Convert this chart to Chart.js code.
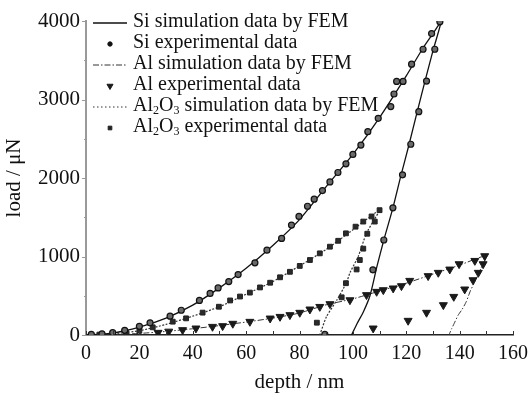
<!DOCTYPE html>
<html><head><meta charset="utf-8">
<script src="https://cdn.jsdelivr.net/npm/chart.js@4.4.0/dist/chart.umd.min.js"></script>
<style>html,body{margin:0;padding:0;background:#fff;}</style>
</head><body>
<canvas id="c" width="528" height="393" style="width:528px;height:393px;display:block"></canvas>
<script>
// ---- data ----
const xTickValues = [0, 20, 40, 60, 80, 100, 120, 140, 160];
const yTickValues = [0, 1000, 2000, 3000, 4000];
const seriesLabels = ['Si simulation data by FEM', 'Si experimental data', 'Al simulation data by FEM',
  'Al experimental data', 'Al\u2082O\u2083 simulation data by FEM', 'Al\u2082O\u2083 experimental data'];

const siSimDepth = [0,10,20,30,40,50,60,70,80,90,100,110,120,126,130,133, 130,127,124,121,118,115,111.6,109,106.4,104,101.5,99.5];
const siSimLoad  = [0,25,100,215,380,600,850,1140,1470,1890,2300,2770,3300,3640,3840,3990, 3620,3230,2830,2420,2030,1620,1210,870,500,300,140,0];

const siExpDepth = [2,6,10,14.5,20,24,31.5,35.7,42.5,46.5,49.5,53.5,57,63.3,67.8,73.3,77,79.8,83,85.5,88.6,91.4,94.4,97.4,100,103,105.6,109.5,114.2,115.4,116.4,118.8,122,126.3,129.5,132.6,
  130.7,127.6,124.7,121.7,118.6,115,111.6,107.5,89.5];
const siExpLoad  = [8,15,30,60,110,155,240,315,440,530,600,680,770,920,1080,1230,1400,1510,1640,1730,1840,1950,2070,2180,2300,2420,2590,2760,2910,3070,3230,3230,3450,3640,3840,3990,
  3640,3235,2845,2430,2040,1620,1210,830,8];

const alSimDepth = [0,10,20,30,40,50,60,70,80,90,100,110,120,130,140,150, 148,146,144,142.5,141,139.4,138,137,136];
const alSimLoad  = [0,5,20,45,80,120,165,215,280,385,460,560,660,775,890,1010, 850,700,560,425,330,250,150,80,0];

const alExpDepth = [27,31,36.2,41.2,47.4,51.2,55,61.4,69,72.7,76.4,80.1,83.9,87.6,91.4,98.9,105.1,108.9,111.4,115.1,118.2,121.3,128.2,132,136.3,139.8,145.7,149.4,
  148.8,147,145,141.9,137.8,133.9,127.6,120.7,107.6];
const alExpLoad  = [30,45,64,85,106,115,145,170,212,233,255,285,327,360,395,445,510,552,573,595,624,692,752,794,836,904,946,1006,
  904,794,700,582,488,382,285,183,85];

const aloSimDepth = [0,10,20,30,40,50,60,70,80,90,100,105,110, 108,105,102,99,97.5,94,90.1,87.6];
const aloSimLoad  = [0,15,55,135,240,360,520,680,880,1090,1340,1470,1590, 1470,1290,1000,800,660,445,233,0];

const aloExpDepth = [5,10,15,20,25,32.5,37.5,43.7,49.8,54,57.7,61.4,65.2,69,72.7,76.4,80.1,83.9,87.6,91.4,94.5,97.4,101,103.9,107,110,
  108.2,105.4,103.9,102.6,101.4,97.4,95.8,86.5];
const aloExpLoad  = [5,15,30,55,98,170,212,285,360,440,490,540,606,666,735,805,880,955,1040,1125,1200,1295,1380,1445,1510,1590,
  1445,1290,1100,955,835,660,480,157];

const pts = (xs, ys) => xs.map((v, i) => ({x: v, y: ys[i]}));

const SERIF = '"Liberation Serif", "Times New Roman", "DejaVu Serif", serif';

const datasets = [
  {label: seriesLabels[0], data: pts(siSimDepth, siSimLoad), showLine: true, pointRadius: 0,
   borderColor: '#111', borderWidth: 1.3, tension: 0.25, order: 2, legendKind: 'line'},
  {label: seriesLabels[1], data: pts(siExpDepth, siExpLoad), showLine: false, pointStyle: 'circle', pointRadius: 3,
   backgroundColor: '#6a6a6a', borderColor: '#111', borderWidth: 1.2, order: 1, legendKind: 'point', legendRadius: 2.2},
  {label: seriesLabels[2], data: pts(alSimDepth, alSimLoad), showLine: true, pointRadius: 0,
   borderColor: '#333', borderWidth: 1, borderDash: [6, 2, 1.5, 2], tension: 0.2, order: 2, legendKind: 'line'},
  {label: seriesLabels[3], data: pts(alExpDepth, alExpLoad), showLine: false, pointStyle: 'triangle', rotation: 180, pointRadius: 4.6,
   backgroundColor: '#1a1a1a', borderColor: '#1a1a1a', borderWidth: 1, order: 1, legendKind: 'point', legendRadius: 3.5},
  {label: seriesLabels[4], data: pts(aloSimDepth, aloSimLoad), showLine: true, pointRadius: 0,
   borderColor: '#333', borderWidth: 1.2, borderDash: [2, 1.5], tension: 0.2, order: 2, legendKind: 'line', legendDash: [1.5, 2.5]},
  {label: seriesLabels[5], data: pts(aloExpDepth, aloExpLoad), showLine: false, pointStyle: 'rect', pointRadius: 3.4,
   backgroundColor: '#2a2a2a', borderColor: '#222', borderWidth: 1, order: 1, legendKind: 'point', legendRadius: 2.6},
];

const tickPlugin = {
  id: 'axisTicks',
  afterDraw(chart) {
    const {ctx, scales: {x, y}} = chart;
    ctx.save();
    ctx.lineWidth = 1;
    ctx.strokeStyle = '#333';
    const step = xTickValues[1] - xTickValues[0];
    for (let v = xTickValues[0]; v <= xTickValues[xTickValues.length - 1]; v += step / 2) {
      const px = Math.round(x.getPixelForValue(v)) + 0.5;
      ctx.beginPath(); ctx.moveTo(px, y.bottom); ctx.lineTo(px, y.bottom - 4); ctx.stroke();
    }
    ctx.strokeStyle = '#999';
    const ystep = yTickValues[1] - yTickValues[0];
    for (let v = yTickValues[0]; v <= yTickValues[yTickValues.length - 1]; v += ystep / 2) {
      const py = Math.round(y.getPixelForValue(v)) + 0.5;
      const len = (v % ystep === 0) ? 4 : 2;
      ctx.beginPath(); ctx.moveTo(x.left, py); ctx.lineTo(x.left - len, py); ctx.stroke();
    }
    ctx.restore();
  }
};

const SUB = {'\u2082': '2', '\u2083': '3'};
function drawRich(ctx, text, x, y, size) {
  let cx = x;
  for (const ch of text) {
    if (SUB[ch]) {
      ctx.font = `${Math.round(size * 0.62)}px ${SERIF}`;
      ctx.fillText(SUB[ch], cx, y + size * 0.22);
      cx += ctx.measureText(SUB[ch]).width;
    } else {
      ctx.font = `${size}px ${SERIF}`;
      ctx.fillText(ch, cx, y);
      cx += ctx.measureText(ch).width;
    }
  }
}

const legendPlugin = {
  id: 'customLegend',
  afterDraw(chart) {
    const {ctx, chartArea} = chart;
    ctx.save();
    chart.data.datasets.forEach((ds, i) => {
      const rowY = chartArea.top + 1 + i * 21;
      const x0 = chartArea.left + 7, x1 = chartArea.left + 41, xm = (x0 + x1) / 2;
      if (ds.legendKind === 'line') {
        ctx.strokeStyle = ds.borderColor;
        ctx.lineWidth = ds.borderWidth;
        ctx.setLineDash(ds.legendDash || ds.borderDash || []);
        ctx.beginPath(); ctx.moveTo(x0, rowY + 1); ctx.lineTo(x1, rowY + 1); ctx.stroke();
        ctx.setLineDash([]);
      } else {
        ctx.fillStyle = ds.borderColor;
        ctx.strokeStyle = ds.borderColor;
        ctx.lineWidth = 1;
        Chart.helpers.drawPoint(ctx, {pointStyle: ds.pointStyle, radius: ds.legendRadius, rotation: ds.rotation || 0, borderWidth: 1}, xm, rowY + 1);
      }
      ctx.fillStyle = '#111';
      ctx.textBaseline = 'middle';
      ctx.textAlign = 'left';
      drawRich(ctx, ds.label, chartArea.left + 47, rowY, 20);
    });
    ctx.restore();
  }
};

new Chart(document.getElementById('c'), {
  type: 'scatter',
  data: {datasets},
  options: {
    responsive: false,
    devicePixelRatio: 1,
    animation: false,
    layout: {padding: {top: 21, right: 15, left: 0, bottom: 0}},
    plugins: {legend: {display: false}, tooltip: {enabled: false}},
    scales: {
      x: {
        type: 'linear', min: 0, max: 160,
        afterBuildTicks: s => { s.ticks = xTickValues.map(v => ({value: v})); },
        afterFit: s => { s.height = 58; s.paddingLeft = 0; s.paddingRight = 0; },
        grid: {display: false, drawTicks: false},
        border: {display: true, color: '#222', width: 1.5},
        ticks: {font: {family: SERIF, size: 20}, color: '#111', padding: 7, maxRotation: 0, callback: v => String(v)},
        title: {display: true, text: 'depth / nm', font: {family: SERIF, size: 21, lineHeight: 1}, color: '#111', padding: {top: 0, bottom: 0}}
      },
      y: {
        type: 'linear', min: 0, max: 4000,
        afterBuildTicks: s => { s.ticks = yTickValues.map(v => ({value: v})); },
        afterFit: s => { s.width = 86; s.paddingTop = 0; s.paddingBottom = 0; },
        grid: {display: false, drawTicks: false},
        border: {display: true, color: '#999', width: 2},
        ticks: {font: {family: SERIF, size: 21}, color: '#111', padding: 6, callback: v => String(v)},
        title: {display: true, text: 'load / \u03bcN', font: {family: SERIF, size: 21, lineHeight: 1}, color: '#111', padding: {top: 4, bottom: 0}}
      }
    }
  },
  plugins: [tickPlugin, legendPlugin]
});
</script>
</body></html>
